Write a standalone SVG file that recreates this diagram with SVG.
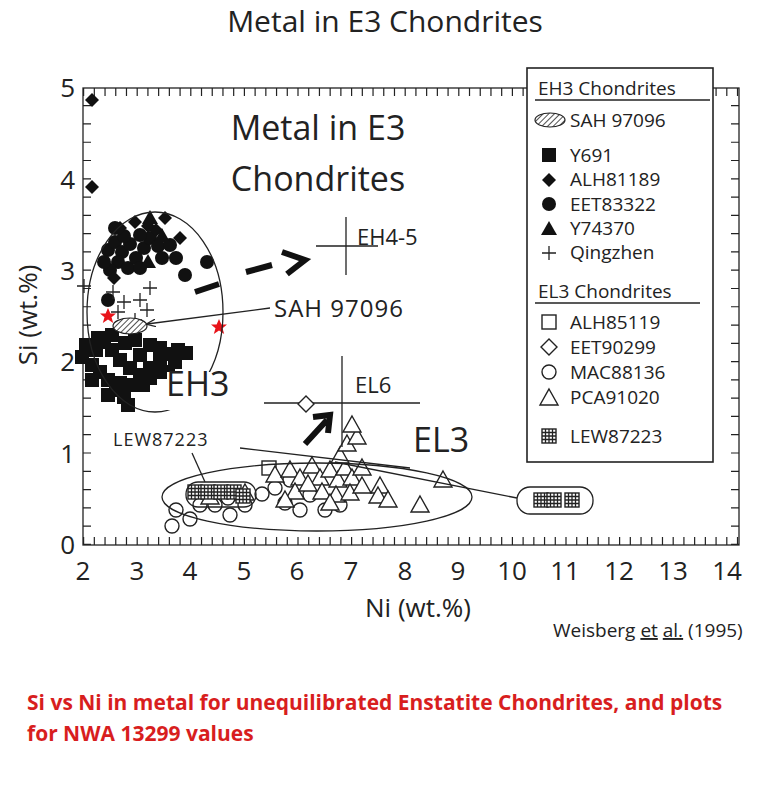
<svg xmlns="http://www.w3.org/2000/svg" xmlns:xlink="http://www.w3.org/1999/xlink" width="770" height="800" viewBox="0 0 770 800">
<style>
text{font-family:"Open Sans","Liberation Sans",sans-serif;fill:#222}
.ln{stroke:#222;fill:none;stroke-width:1.3}
.o{fill:#fff;stroke:#222;stroke-width:1.4}
.f{fill:#111}
.lg{font-size:19px}
</style>
<defs>
<rect id="sq" x="-7" y="-7" width="14" height="14" class="f"/>
<circle id="ci" r="7" class="f"/>
<path id="di" d="M0-7L7 0 0 7-7 0Z" class="f"/>
<path id="tr" d="M0-8L8 6H-8Z" class="f"/>
<path id="pl" d="M-7 0H7M0-7V7" class="ln" stroke-width="1.8"/>
<rect id="osq" x="-7" y="-7" width="14" height="14" class="o"/>
<path id="odi" d="M0-8L8 0 0 8-8 0Z" class="o"/>
<circle id="oci" r="7" class="o"/>
<path id="otr" d="M0-9L9 7H-9Z" class="o"/>
<g id="gr"><rect x="-7" y="-7" width="14" height="14" class="o"/><path d="M-7 0H7M0-7V7M-7-3.5H7M-7 3.5H7M-3.5-7V7M3.5-7V7" class="ln" stroke-width="0.8"/></g>
<pattern id="hatch" width="4" height="4" patternUnits="userSpaceOnUse" patternTransform="rotate(45)"><rect width="4" height="4" fill="#fff"/><line x1="0" y1="0" x2="0" y2="4" stroke="#222" stroke-width="1.6"/></pattern>
<path id="star" d="M0-8L2.4-2.5 8-2.5 3.5 1.2 5.2 7 0 3.6-5.2 7-3.5 1.2-8-2.5-2.4-2.5Z" fill="#e8141a"/>
<marker id="ah" markerWidth="10" markerHeight="8" refX="9" refY="4" orient="auto" markerUnits="userSpaceOnUse"><path d="M0 0L10 4 0 8" fill="none" stroke="#222" stroke-width="1.2"/></marker>
</defs>
<rect width="770" height="800" fill="#fff"/>
<text x="385" y="32" font-size="30" text-anchor="middle" fill="#333">Metal in E3 Chondrites</text>

<g id="axes">
<rect x="83" y="88" width="656" height="457" class="ln"/>
<line x1="83" y1="541" x2="739" y2="541" stroke="#222" stroke-width="8" stroke-dasharray="1.2 9.52"/>
<line x1="83" y1="92" x2="739" y2="92" stroke="#222" stroke-width="8" stroke-dasharray="1.2 9.52"/>
<line x1="87" y1="545" x2="87" y2="88" stroke="#222" stroke-width="8" stroke-dasharray="1.2 17.08"/>
<line x1="735" y1="545" x2="735" y2="88" stroke="#222" stroke-width="8" stroke-dasharray="1.2 17.08"/>
<g font-size="26" text-anchor="middle">
<text x="83" y="580">2</text><text x="137" y="580">3</text><text x="190" y="580">4</text><text x="244" y="580">5</text><text x="297" y="580">6</text><text x="351" y="580">7</text><text x="405" y="580">8</text><text x="458" y="580">9</text><text x="512" y="580">10</text><text x="565" y="580">11</text><text x="619" y="580">12</text><text x="673" y="580">13</text><text x="727" y="580">14</text>
<text x="418" y="617">Ni (wt.%)</text>
</g>
<g font-size="26" text-anchor="end">
<text x="75" y="554">0</text><text x="75" y="463">1</text><text x="75" y="371">2</text><text x="75" y="280">3</text><text x="75" y="189">4</text><text x="75" y="97">5</text>
</g>
<text transform="translate(37 315) rotate(-90)" font-size="26" text-anchor="middle">Si (wt.%)</text>
</g>

<text x="318" y="140" font-size="34" text-anchor="middle">Metal in E3</text>
<text x="318" y="191" font-size="34" text-anchor="middle">Chondrites</text>

<g id="eh3-points">
<use href="#di" x="92" y="100"/><use href="#di" x="92" y="187"/>
<use href="#sq" x="82" y="357"/><use href="#sq" x="92" y="365"/><use href="#sq" x="100" y="372"/><use href="#sq" x="108" y="380"/><use href="#sq" x="116" y="390"/><use href="#sq" x="124" y="397"/><use href="#sq" x="96" y="350"/><use href="#sq" x="104" y="342"/><use href="#sq" x="112" y="350"/><use href="#sq" x="120" y="360"/><use href="#sq" x="130" y="368"/><use href="#sq" x="140" y="375"/><use href="#sq" x="150" y="368"/><use href="#sq" x="160" y="360"/><use href="#sq" x="170" y="354"/><use href="#sq" x="178" y="350"/><use href="#sq" x="186" y="353"/><use href="#sq" x="150" y="345"/><use href="#sq" x="140" y="355"/><use href="#sq" x="125" y="343"/><use href="#sq" x="112" y="335"/><use href="#sq" x="98" y="338"/><use href="#sq" x="108" y="395"/><use href="#sq" x="120" y="383"/><use href="#sq" x="132" y="385"/><use href="#sq" x="145" y="385"/><use href="#sq" x="158" y="378"/><use href="#sq" x="168" y="372"/><use href="#sq" x="128" y="405"/><use href="#sq" x="92" y="380"/><use href="#sq" x="160" y="348"/><use href="#sq" x="175" y="362"/><use href="#sq" x="86" y="345"/><use href="#sq" x="135" y="340"/>
<use href="#ci" x="108" y="250"/><use href="#ci" x="115" y="242"/><use href="#ci" x="122" y="252"/><use href="#ci" x="130" y="244"/><use href="#ci" x="118" y="262"/><use href="#ci" x="110" y="270"/><use href="#ci" x="128" y="268"/><use href="#ci" x="136" y="258"/><use href="#ci" x="144" y="248"/><use href="#ci" x="150" y="238"/><use href="#ci" x="158" y="246"/><use href="#ci" x="170" y="245"/><use href="#ci" x="176" y="258"/><use href="#ci" x="185" y="275"/><use href="#ci" x="207" y="262"/><use href="#ci" x="108" y="300"/><use href="#ci" x="124" y="236"/><use href="#ci" x="140" y="235"/><use href="#ci" x="162" y="258"/><use href="#ci" x="104" y="262"/><use href="#ci" x="115" y="228"/><use href="#ci" x="140" y="268"/>
<use href="#di" x="165" y="218"/><use href="#di" x="156" y="230"/><use href="#di" x="148" y="226"/><use href="#di" x="120" y="228"/><use href="#di" x="135" y="222"/><use href="#di" x="180" y="238"/><use href="#di" x="114" y="278"/>
<use href="#tr" x="150" y="218"/><use href="#tr" x="162" y="236"/><use href="#tr" x="148" y="262"/>
<use href="#pl" x="84" y="286"/><use href="#pl" x="113" y="292"/><use href="#pl" x="124" y="302"/><use href="#pl" x="140" y="300"/><use href="#pl" x="150" y="288"/><use href="#pl" x="147" y="310"/><use href="#pl" x="118" y="312"/><use href="#pl" x="135" y="320"/>
<ellipse cx="130" cy="326" rx="17" ry="8" fill="url(#hatch)" stroke="#222" stroke-width="1.2"/>
<use href="#star" x="108" y="316"/><use href="#star" x="219" y="327"/>
</g>

<g id="el3-points">
<use href="#osq" x="269" y="468"/>
<use href="#oci" x="176" y="510"/><use href="#oci" x="172" y="526"/><use href="#oci" x="190" y="519"/><use href="#oci" x="200" y="505"/><use href="#oci" x="215" y="505"/><use href="#oci" x="230" y="515"/><use href="#oci" x="245" y="505"/><use href="#oci" x="262" y="494"/><use href="#oci" x="275" y="488"/><use href="#oci" x="285" y="503"/><use href="#oci" x="300" y="510"/><use href="#oci" x="310" y="495"/><use href="#oci" x="325" y="510"/><use href="#oci" x="340" y="505"/><use href="#oci" x="290" y="480"/><use href="#oci" x="228" y="498"/>
<use href="#otr" x="210" y="497"/><use href="#otr" x="245" y="493"/><use href="#otr" x="275" y="475"/><use href="#otr" x="290" y="470"/><use href="#otr" x="300" y="478"/><use href="#otr" x="312" y="466"/><use href="#otr" x="320" y="478"/><use href="#otr" x="330" y="470"/><use href="#otr" x="338" y="480"/><use href="#otr" x="345" y="468"/><use href="#otr" x="352" y="478"/><use href="#otr" x="295" y="492"/><use href="#otr" x="308" y="484"/><use href="#otr" x="322" y="492"/><use href="#otr" x="336" y="495"/><use href="#otr" x="350" y="493"/><use href="#otr" x="362" y="486"/><use href="#otr" x="340" y="456"/><use href="#otr" x="347" y="444"/><use href="#otr" x="357" y="437"/><use href="#otr" x="352" y="425"/><use href="#otr" x="362" y="468"/><use href="#otr" x="380" y="486"/><use href="#otr" x="378" y="496"/><use href="#otr" x="388" y="500"/><use href="#otr" x="420" y="505"/><use href="#otr" x="443" y="480"/><use href="#otr" x="330" y="503"/><use href="#otr" x="285" y="500"/>
<use href="#gr" x="195" y="492"/><use href="#gr" x="208" y="492"/><use href="#gr" x="221" y="492"/><use href="#gr" x="234" y="492"/><use href="#gr" x="243" y="496"/>
<use href="#gr" x="541" y="500"/><use href="#gr" x="554" y="500"/><use href="#gr" x="572" y="500"/>
</g>

<g id="annotations">
<ellipse cx="155" cy="312" rx="68" ry="100" class="ln"/>
<rect x="150" y="372" width="70" height="38" fill="#fff"/>
<use href="#sq" x="150" y="378"/><use href="#sq" x="160" y="372"/>
<text x="166" y="396" font-size="34">EH3</text>
<path d="M195 292L219 284M246 272L272 265" stroke="#111" stroke-width="6" fill="none"/>
<path d="M282 252L305 260 287 274" stroke="#111" stroke-width="6" fill="none"/>
<path d="M346 217V275M316 246H378" class="ln" stroke-width="1.6"/>
<text x="357" y="245" font-size="22">EH4-5</text>
<text x="274" y="317" font-size="24" letter-spacing="1">SAH  97096</text>
<line x1="270" y1="308" x2="147" y2="324" class="ln" marker-end="url(#ah)"/>
<path d="M342 356V447M264 403H420" class="ln" stroke-width="1.6"/>
<text x="355" y="393" font-size="22">EL6</text>
<use href="#odi" x="306" y="404"/>
<path d="M305 444L327 420M313 417L330 415 328 433" stroke="#111" stroke-width="6" fill="none"/>
<text x="413" y="452" font-size="34">EL3</text>
<ellipse cx="317" cy="497" rx="155" ry="34" class="ln"/>
<rect x="186" y="482" width="70" height="25" rx="12" class="ln"/>
<rect x="517" y="487" width="76" height="27" rx="13" class="ln"/>
<text x="113" y="446" font-size="18" letter-spacing="1">LEW87223</text>
<line x1="192" y1="453" x2="205" y2="482" class="ln"/>
<line x1="240" y1="448" x2="410" y2="468" class="ln"/>
<line x1="335" y1="462" x2="517" y2="498" class="ln"/>
</g>

<g id="legend">
<rect x="527" y="68" width="186" height="394" fill="#fff" stroke="#222" stroke-width="1.6"/>
<text x="538" y="95" class="lg">EH3 Chondrites</text>
<line x1="535" y1="100" x2="710" y2="100" class="ln"/>
<ellipse cx="550" cy="120" rx="15" ry="7" fill="url(#hatch)" stroke="#222" stroke-width="1.2"/>
<text x="570" y="127" class="lg">SAH 97096</text>
<use href="#sq" x="549" y="155"/><text x="570" y="162" class="lg">Y691</text>
<use href="#di" x="549" y="180"/><text x="570" y="186" class="lg">ALH81189</text>
<use href="#ci" x="549" y="204"/><text x="570" y="211" class="lg">EET83322</text>
<use href="#tr" x="549" y="229"/><text x="570" y="235" class="lg">Y74370</text>
<use href="#pl" x="549" y="253"/><text x="570" y="259" class="lg">Qingzhen</text>
<text x="538" y="298" class="lg">EL3 Chondrites</text>
<line x1="535" y1="303" x2="700" y2="303" class="ln"/>
<use href="#osq" x="549" y="322"/><text x="570" y="329" class="lg">ALH85119</text>
<use href="#odi" x="549" y="347"/><text x="570" y="354" class="lg">EET90299</text>
<use href="#oci" x="549" y="372"/><text x="570" y="379" class="lg">MAC88136</text>
<use href="#otr" x="549" y="398"/><text x="570" y="404" class="lg">PCA91020</text>
<use href="#gr" x="549" y="436"/><text x="570" y="443" class="lg">LEW87223</text>
</g>

<text x="553" y="637" font-size="19">Weisberg <tspan text-decoration="underline">et</tspan> <tspan text-decoration="underline">al.</tspan> (1995)</text>
<text x="27" y="710" font-size="21" font-weight="bold" style="fill:#d81e1e">Si vs Ni in metal for unequilibrated Enstatite Chondrites, and plots</text>
<text x="27" y="741" font-size="21" font-weight="bold" style="fill:#d81e1e">for NWA 13299 values</text>
</svg>
